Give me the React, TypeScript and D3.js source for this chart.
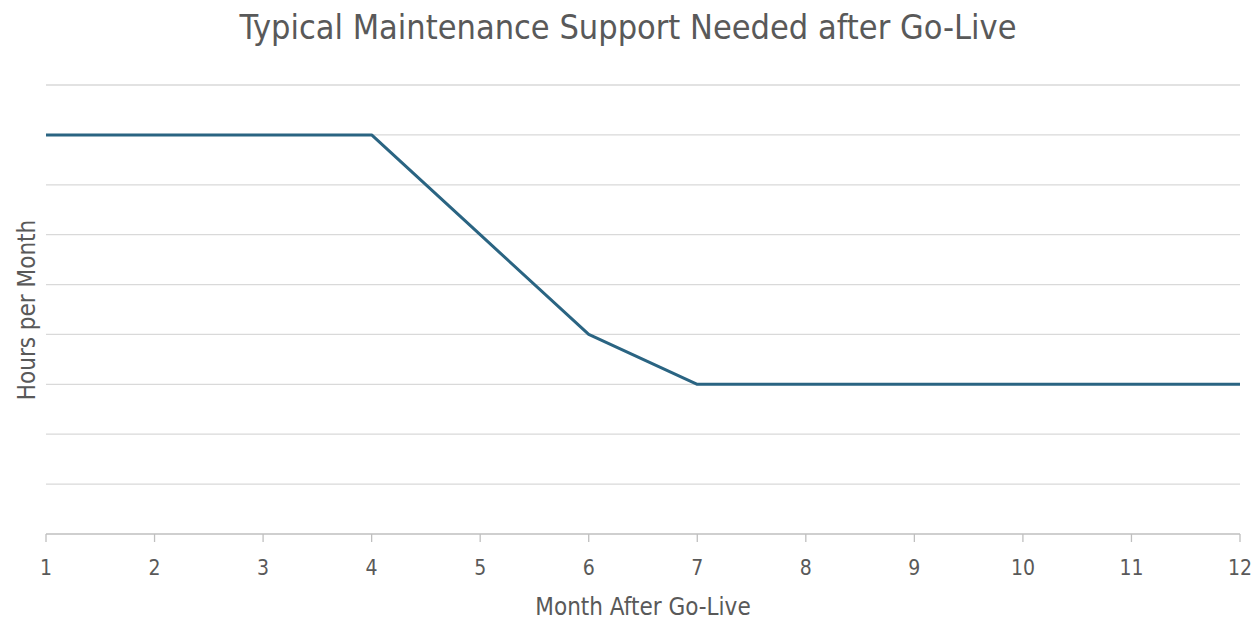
import React from "react";
import * as d3 from "d3";

const months = [1, 2, 3, 4, 5, 6, 7, 8, 9, 10, 11, 12];
const hours = [8, 8, 8, 8, 6, 4, 3, 3, 3, 3, 3, 3];
const yTicks = [0, 1, 2, 3, 4, 5, 6, 7, 8, 9];
const title = "Typical Maintenance Support Needed after Go-Live";
const xTitle = "Month After Go-Live";
const yTitle = "Hours per Month";

const W = 1260;
const H = 620;
const FONT = "'Liberation Sans Narrow', 'DejaVu Sans Condensed', Roboto, sans-serif";

export default function App() {
  const x = d3.scaleLinear().domain([1, 12]).range([46, 1240]);
  const y = d3.scaleLinear().domain([0, 9]).range([534, 85]);
  const line = d3
    .line<number>()
    .x((_, i) => x(months[i]))
    .y((d) => y(d));
  return (
    <svg
      width={W}
      height={H}
      style={{ position: "absolute", left: 0, top: 0, background: "#fff" }}
      fontFamily={FONT}
    >
      <text x={628} y={39} textAnchor="middle" fontSize={34} fill="#595959">
        {title}
      </text>
      {yTicks.slice(1).map((t) => (
        <line key={t} x1={46} x2={1240} y1={y(t)} y2={y(t)} stroke="#d9d9d9" strokeWidth={1.3} />
      ))}
      <line x1={46} x2={1240} y1={y(0)} y2={y(0)} stroke="#bfbfbf" strokeWidth={1.3} />
      {months.map((m) => (
        <g key={m}>
          <line x1={x(m)} x2={x(m)} y1={y(0)} y2={y(0) + 8} stroke="#bfbfbf" strokeWidth={1.3} />
          <text x={x(m)} y={575} textAnchor="middle" fontSize={21} fill="#595959">
            {m}
          </text>
        </g>
      ))}
      <path d={line(hours) || ""} fill="none" stroke="#2a6482" strokeWidth={3} strokeLinejoin="round" />
      <text x={643} y={615} textAnchor="middle" fontSize={24} fill="#595959">
        {xTitle}
      </text>
      <text
        transform={`translate(35,310) rotate(-90)`}
        textAnchor="middle"
        fontSize={24}
        fill="#595959"
      >
        {yTitle}
      </text>
    </svg>
  );
}
